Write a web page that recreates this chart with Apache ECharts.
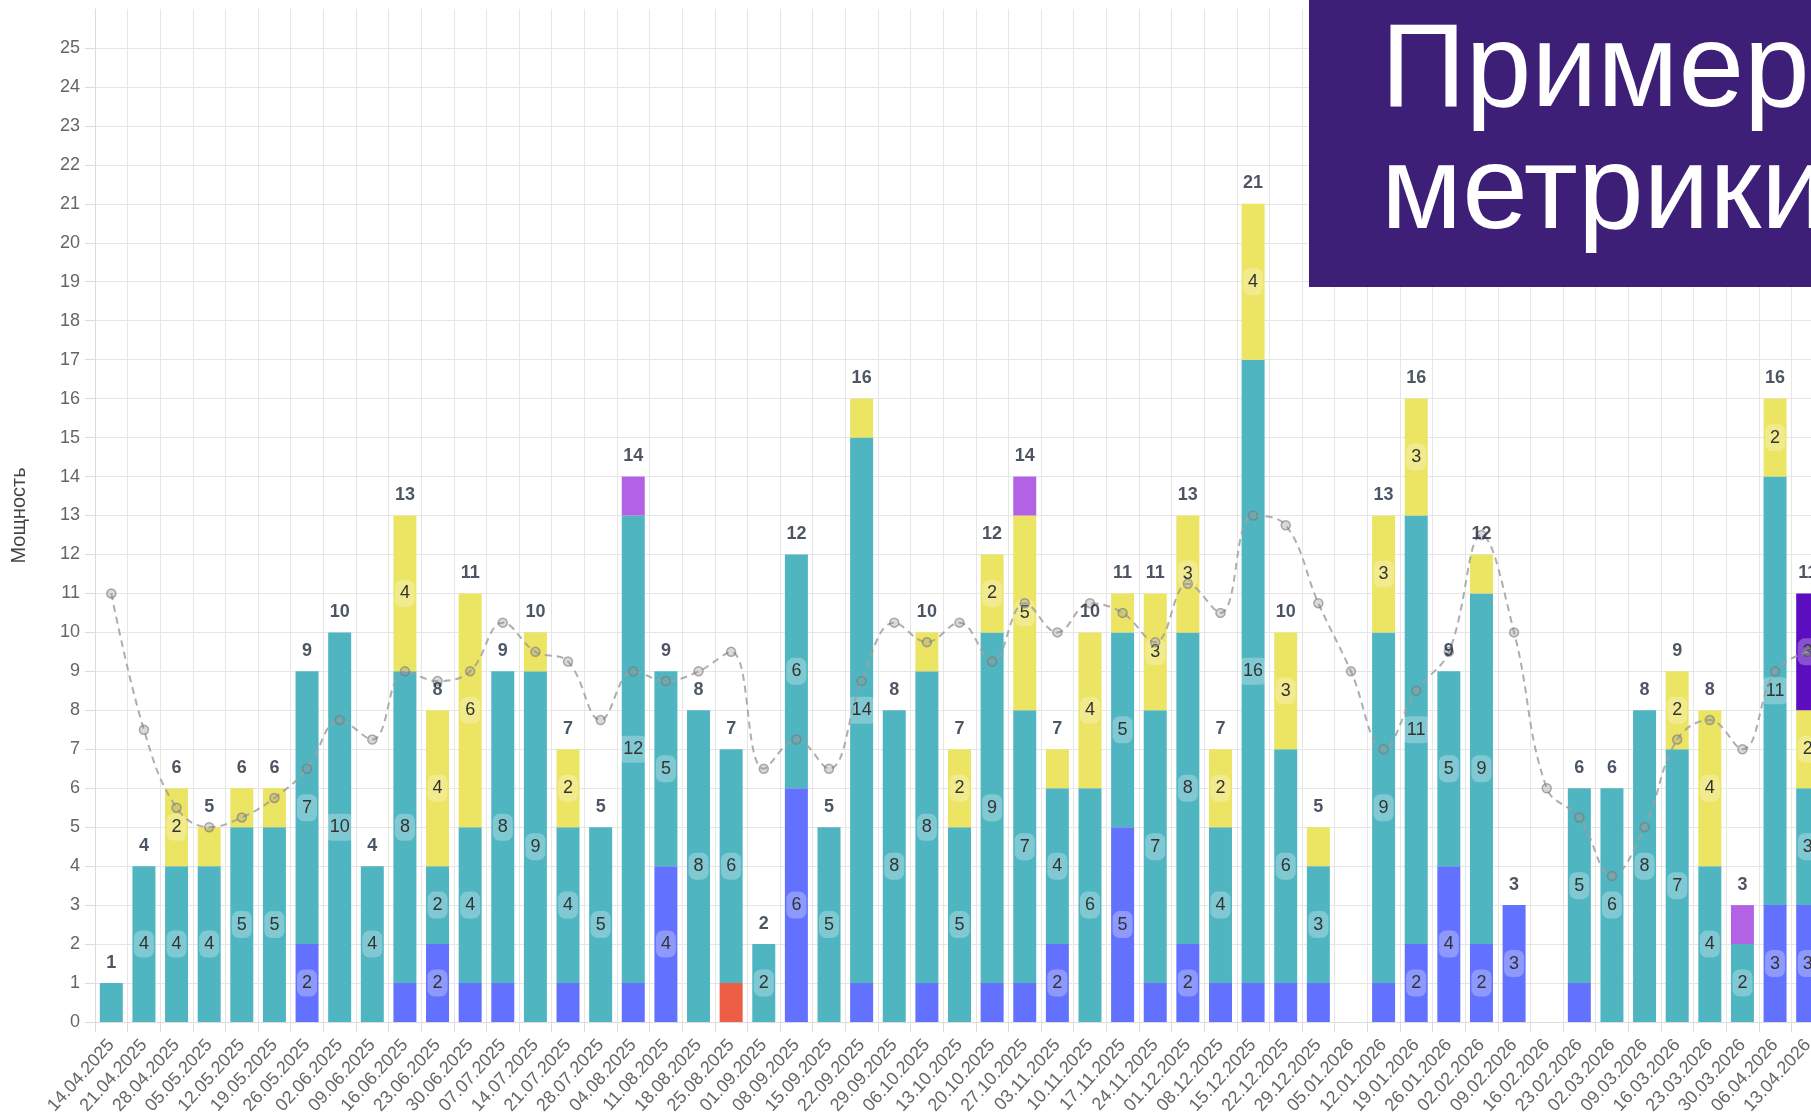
<!DOCTYPE html>
<html>
<head>
<meta charset="utf-8">
<script src="https://cdn.jsdelivr.net/npm/echarts@6/dist/echarts.min.js"></script>
<style>
html,body{margin:0;padding:0;background:#fff;}
#chart{width:1811px;height:1113px;}
</style>
</head>
<body>
<div id="chart"></div>
<script>
const categories = ['14.04.2025','21.04.2025','28.04.2025','05.05.2025','12.05.2025','19.05.2025','26.05.2025','02.06.2025','09.06.2025','16.06.2025','23.06.2025','30.06.2025','07.07.2025','14.07.2025','21.07.2025','28.07.2025','04.08.2025','11.08.2025','18.08.2025','25.08.2025','01.09.2025','08.09.2025','15.09.2025','22.09.2025','29.09.2025','06.10.2025','13.10.2025','20.10.2025','27.10.2025','03.11.2025','10.11.2025','17.11.2025','24.11.2025','01.12.2025','08.12.2025','15.12.2025','22.12.2025','29.12.2025','05.01.2026','12.01.2026','19.01.2026','26.01.2026','02.02.2026','09.02.2026','16.02.2026','23.02.2026','02.03.2026','09.03.2026','16.03.2026','23.03.2026','30.03.2026','06.04.2026','13.04.2026'];

const redVals    = [0,0,0,0,0,0,0,0,0,0,0,0,0,0,0,0,0,0,0,1,0,0,0,0,0,0,0,0,0,0,0,0,0,0,0,0,0,0,0,0,0,0,0,0,0,0,0,0,0,0,0,0,0];
const blueVals   = [0,0,0,0,0,0,2,0,0,1,2,1,1,0,1,0,1,4,0,0,0,6,0,1,0,1,0,1,1,2,0,5,1,2,1,1,1,1,0,1,2,4,2,3,0,1,0,0,0,0,0,3,3];
const tealVals   = [1,4,4,4,5,5,7,10,4,8,2,4,8,9,4,5,12,5,8,6,2,6,5,14,8,8,5,9,7,4,6,5,7,8,4,16,6,3,0,9,11,5,9,0,0,5,6,8,7,4,2,11,3];
const yellowVals = [0,0,2,1,1,1,0,0,0,4,4,6,0,1,2,0,0,0,0,0,0,0,0,1,0,1,2,2,5,1,4,1,3,3,2,4,3,1,0,3,3,0,1,0,0,0,0,0,2,4,0,2,2];
const lilacVals  = [0,0,0,0,0,0,0,0,0,0,0,0,0,0,0,0,1,0,0,0,0,0,0,0,0,0,0,0,1,0,0,0,0,0,0,0,0,0,0,0,0,0,0,0,0,0,0,0,0,0,1,0,0];
const violetVals = [0,0,0,0,0,0,0,0,0,0,0,0,0,0,0,0,0,0,0,0,0,0,0,0,0,0,0,0,0,0,0,0,0,0,0,0,0,0,0,0,0,0,0,0,0,0,0,0,0,0,0,0,3];
const trendVals  = [11,7.5,5.5,5,5.25,5.75,6.5,7.75,7.25,9,8.75,9,10.25,9.5,9.25,7.75,9,8.75,9,9.5,6.5,7.25,6.5,8.75,10.25,9.75,10.25,9.25,10.75,10,10.75,10.5,9.75,11.25,10.5,13,12.75,10.75,9,7,8.5,9.5,12.5,10,6,5.25,3.75,5,7.25,7.75,7,9,9.5];

const axisTitle = 'Мощность';
const overlayText = 'Пример\nметрики';

const totals = categories.map((_, i) => redVals[i] + blueVals[i] + tealVals[i] + yellowVals[i] + lilacVals[i] + violetVals[i]);

const FONT = '"Liberation Sans", Arial, sans-serif';
const innerLabel = {
  position: 'inside',
  color: '#333',
  fontFamily: FONT,
  fontSize: 18,
  backgroundColor: 'rgba(255,255,255,0.28)',
  borderRadius: 7,
  padding: [5, 5, 4, 5]
};

function barSeries(name, vals, color) {
  return {
    name: name,
    type: 'bar',
    stack: 'total',
    barWidth: 23,
    itemStyle: { color: color },
    label: innerLabel,
    data: vals.map(v => ({ value: v, label: { show: v >= 2 } })),
    z: 2
  };
}

const chart = echarts.init(document.getElementById('chart'));
chart.setOption({
  animation: false,
  backgroundColor: '#fff',
  grid: { left: 95, top: 9, bottom: 91, right: -13, containLabel: false, outerBoundsMode: 'none' },
  xAxis: {
    type: 'category',
    data: categories,
    boundaryGap: true,
    axisLine: { show: true, lineStyle: { color: '#dcdcdc', width: 1 } },
    axisTick: { show: true, length: 10, lineStyle: { color: '#dcdcdc' } },
    splitLine: { show: true, interval: 0, lineStyle: { color: '#e6e6e6', width: 1 } },
    axisLabel: { interval: 0, rotate: 48, margin: 20, color: '#666', fontFamily: FONT, fontSize: 18 }
  },
  yAxis: {
    type: 'value',
    min: 0, max: 26, interval: 1,
    name: axisTitle,
    nameLocation: 'middle',
    nameGap: 66,
    nameRotate: 90,
    nameTextStyle: { color: '#444', fontFamily: FONT, fontSize: 20 },
    axisLine: { show: true, lineStyle: { color: '#dcdcdc' } },
    axisTick: { show: true, length: 10, lineStyle: { color: '#dcdcdc' } },
    splitLine: { show: true, showMaxLine: false, lineStyle: { color: '#e6e6e6' } },
    axisLabel: { color: '#666', fontFamily: FONT, fontSize: 18, margin: 15, showMaxLabel: false }
  },
  series: [
    barSeries('red', redVals, '#EC5E45'),
    barSeries('blue', blueVals, '#6372FE'),
    barSeries('teal', tealVals, '#4FB5C1'),
    barSeries('yellow', yellowVals, '#ECE463'),
    barSeries('lilac', lilacVals, '#B362E6'),
    barSeries('violet', violetVals, '#5B0DBF'),
    {
      name: 'trend',
      type: 'line',
      data: trendVals,
      smooth: 0.4,
      symbol: 'circle',
      symbolSize: 9,
      z: 5,
      lineStyle: { color: 'rgba(160,160,160,0.85)', width: 2, type: [7, 5] },
      itemStyle: { color: 'rgba(150,150,150,0.35)', borderColor: 'rgba(120,120,120,0.6)', borderWidth: 1.5 }
    },
    {
      name: 'totals',
      type: 'scatter',
      data: totals.map(v => v > 0 ? v : '-'),
      symbolSize: 1,
      itemStyle: { color: 'rgba(0,0,0,0)' },
      silent: true,
      z: 6,
      label: {
        show: true,
        position: 'top',
        distance: 11,
        color: '#1f2a3c',
        fontWeight: 'bold',
        fontFamily: FONT,
        fontSize: 18
      }
    }
  ],
  graphic: [
    { type: 'rect', left: 1309, top: 0, z: 100, shape: { width: 520, height: 287 }, style: { fill: '#3D1F78' } },
    { type: 'text', left: 1381, top: 12, z: 101, style: { text: overlayText, font: '118px "Liberation Sans"', fill: '#ffffff', lineHeight: 122 } }
  ]
});
</script>
</body>
</html>
